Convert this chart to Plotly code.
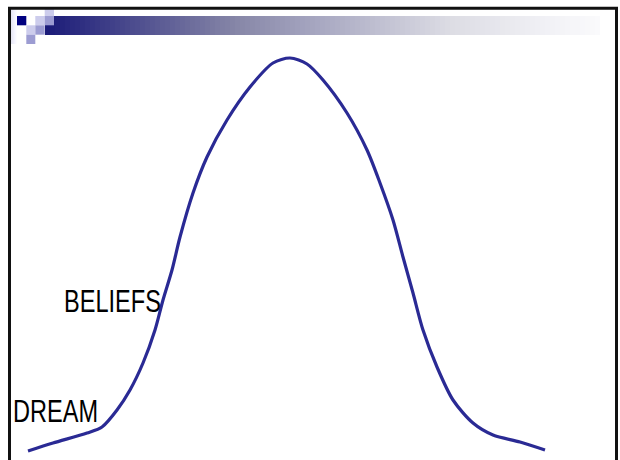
import plotly.graph_objects as go
import numpy as np

# ---- data (x in px from left, y = height above bottom edge) ----
curve_x = [28, 53, 87, 102, 117, 130, 143, 155, 163, 172, 180, 193, 207, 227, 250, 273,
           290, 307, 323, 347, 367, 380, 393, 403, 413, 423, 437, 453, 473, 493, 520, 545]
curve_px_y = [451, 443, 433, 427, 410, 390, 363, 330, 300, 270, 237, 193, 157, 120, 87, 63,
              58, 64, 80, 113, 150, 183, 220, 257, 293, 330, 367, 400, 423, 435, 442, 450]
H = 460
curve_y = [H - v for v in curve_px_y]

label_text = ["BELIEFS", "DREAM"]
label_x = [62, 11]
label_y = [H - 301, H - 411]

W = 620

fig = go.Figure()
fig.add_trace(go.Scatter(
    x=curve_x, y=curve_y, mode="lines",
    line=dict(color="#2a2a94", width=3.2, shape="spline", smoothing=0.8),
    hoverinfo="skip"))

shapes = []

def Y(py):
    return H - py

# gradient header bar
stops_t = [0.0, 0.35, 0.46, 0.73, 0.91, 1.0]
stops_c = [(26, 26, 120), (136, 136, 168), (160, 160, 188), (220, 220, 228), (242, 242, 246), (250, 250, 252)]
x0b, x1b = 45, 600
n = 111
for i in range(n):
    xa = x0b + (x1b - x0b) * i / n
    xb = x0b + (x1b - x0b) * (i + 1) / n + 0.6
    t = (i + 0.5) / n
    c = [int(round(np.interp(t, stops_t, [s[k] for s in stops_c]))) for k in range(3)]
    shapes.append(dict(type="rect", xref="x", yref="y", x0=xa, x1=min(xb, x1b), y0=Y(35), y1=Y(16),
                       line=dict(width=0), fillcolor=f"rgb({c[0]},{c[1]},{c[2]})", layer="below"))

# left faint column
for i in range(7):
    xa = 10 + i
    v = int(round(228 + i * 4))
    shapes.append(dict(type="rect", xref="x", yref="y", x0=xa, x1=xa + 1.05, y0=Y(44), y1=Y(9),
                       line=dict(width=0), fillcolor=f"rgb({v},{v},{min(255, v + 12)})", layer="below"))

light = "#ccccec"
medium = "#9c9cd2"
navy = "#000080"
cells = [
    (17, 26.3, 16, 25.3, navy),
    (35.3, 44.7, 16, 25.3, light),
    (44.7, 54, 16, 25.3, medium),
    (44.7, 54, 9, 16, light),
    (26.3, 35.3, 25.3, 34.7, light),
    (35.3, 44.7, 25.3, 34.7, medium),
    (26.3, 35.3, 34.7, 44, medium),
]
for (a, b, c0, c1, col) in cells:
    shapes.append(dict(type="rect", xref="x", yref="y", x0=a, x1=b, y0=Y(c1), y1=Y(c0),
                       line=dict(width=0), fillcolor=col, layer="below"))

# frame
shapes.append(dict(type="rect", xref="x", yref="y", x0=9.5, x1=616.5, y0=Y(475), y1=Y(8.3),
                   line=dict(color="#111111", width=3), fillcolor="rgba(0,0,0,0)"))

annotations = []
for t, x, y in zip(label_text, label_x, label_y):
    annotations.append(dict(text=t, x=x, y=y, xref="x", yref="y", xanchor="left", yanchor="middle",
                            showarrow=False,
                            font=dict(family="Liberation Sans, Arial",
                                      size=31, color="#000000")))

fig.update_layout(
    width=W, height=H,
    margin=dict(l=0, r=0, t=0, b=0),
    paper_bgcolor="white", plot_bgcolor="white",
    showlegend=False,
    xaxis=dict(range=[0, W], visible=False, fixedrange=True),
    yaxis=dict(range=[0, H], visible=False, fixedrange=True),
    shapes=shapes,
    annotations=annotations,
)

post = """
document.body.style.margin='0';
document.body.style.overflow='hidden';
var gd = document.getElementById('{plot_id}');
gd.querySelectorAll('.annotation-text').forEach(function(t){
  t.style.transformBox='fill-box';
  t.style.transformOrigin='0% 50%';
  t.style.transform='scaleX(0.76)';
});
"""

fig.write_html("out.html", post_script=post, config={"displayModeBar": False})
